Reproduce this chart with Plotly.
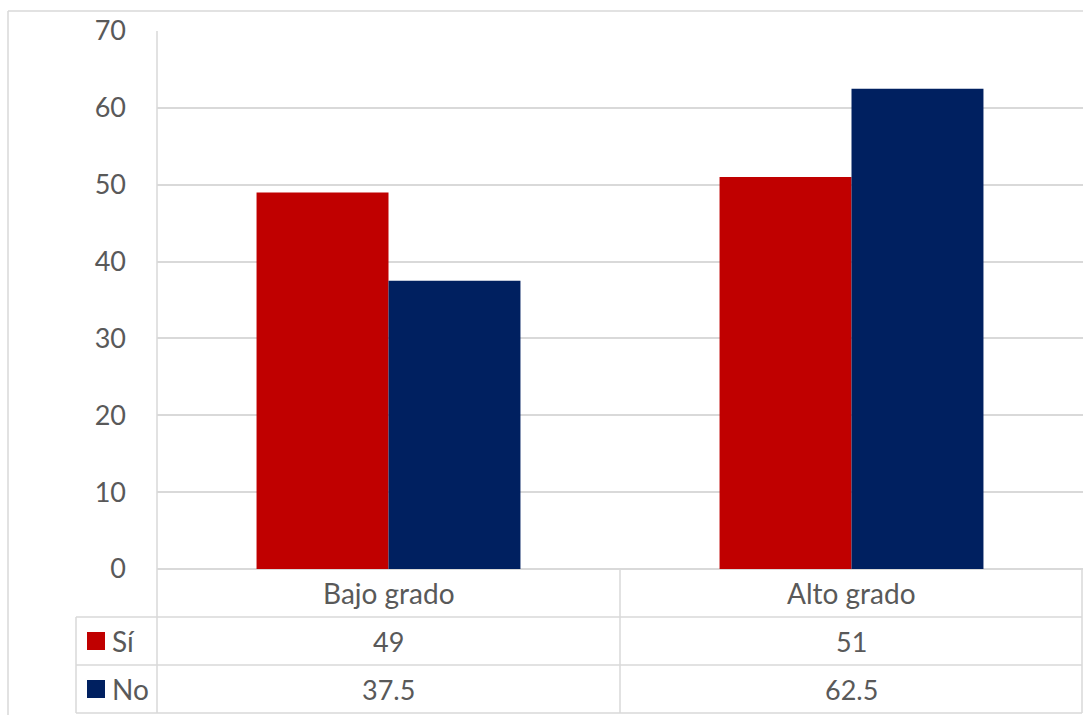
import plotly.graph_objects as go

categories = ["Bajo grado", "Alto grado"]
series_names = ["Sí", "No"]
si_values = [49, 51]
no_values = [37.5, 62.5]
value_labels = {"Sí": ["49", "51"], "No": ["37.5", "62.5"]}
colors = {"Sí": "#C00000", "No": "#002060"}
y_ticks = [0, 10, 20, 30, 40, 50, 60, 70]

W, H = 1083, 715
L, R, T, B = 157, 0, 31, 146
PW, PH = W - L - R, H - T - B
GRID = "#D9D9D9"
TXT = "#595959"
FONT = "Lato"
TEXT_SIZE = 28
NUM_SIZE = 27


def px(x):
    return (x - L) / PW


def py(y):
    return (H - B - y) / PH


fig = go.Figure()
for name, vals in zip(series_names, [si_values, no_values]):
    fig.add_trace(go.Bar(
        x=categories, y=vals, name=name,
        marker=dict(color=colors[name], line=dict(width=0)),
        showlegend=False,
    ))

shapes = []


def line(x0, y0, x1, y1):
    shapes.append(dict(type="line", xref="paper", yref="paper",
                       x0=px(x0), y0=py(y0), x1=px(x1), y1=py(y1),
                       line=dict(color=GRID, width=1.5), layer="above"))


# outer chart frame
line(8, 11, 1083, 11)
line(8, 11, 8, 715)
# plot area left edge extended through the category row
line(157, 31, 157, 713)
# data table grid
line(76, 617, 1082, 617)
line(76, 665, 1082, 665)
line(76, 713, 1082, 713)
line(76, 617, 76, 713)
line(620, 569, 620, 713)
line(1082, 569, 1082, 713)

annotations = []
row_y = {"cat": 593, "Sí": 641, "No": 689}
for i, cat in enumerate(categories):
    annotations.append(dict(x=cat, xref="x", y=py(row_y["cat"]), yref="paper",
                            text=cat, showarrow=False, yanchor="middle",
                            font=dict(family=FONT, size=TEXT_SIZE, color=TXT)))
    for name in series_names:
        annotations.append(dict(x=cat, xref="x", y=py(row_y[name]), yref="paper",
                                text=value_labels[name][i], showarrow=False,
                                yanchor="middle",
                                font=dict(family=FONT, size=NUM_SIZE, color=TXT)))

for name in series_names:
    shapes.append(dict(type="rect", xref="paper", yref="paper",
                       x0=px(87), x1=px(105), y0=py(row_y[name] - 9), y1=py(row_y[name] + 9),
                       fillcolor=colors[name], line=dict(width=0), layer="above"))
    annotations.append(dict(x=px(110), xref="paper", y=py(row_y[name]), yref="paper",
                            text=name, showarrow=False, xanchor="left", yanchor="middle",
                            font=dict(family=FONT, size=TEXT_SIZE, color=TXT)))

fig.update_layout(
    width=W, height=H,
    margin=dict(l=L, r=R, t=T, b=B),
    paper_bgcolor="white", plot_bgcolor="white",
    barmode="group", bargap=0.43, bargroupgap=0,
    shapes=shapes, annotations=annotations,
    xaxis=dict(showticklabels=False, showgrid=False, zeroline=False,
               range=[-0.5, 1.5], fixedrange=True),
    yaxis=dict(range=[0, 70], tickvals=y_ticks, showgrid=True, gridcolor=GRID,
               gridwidth=1.5, zeroline=True, zerolinecolor=GRID, zerolinewidth=1.5,
               ticklabelstandoff=30,
               tickfont=dict(family=FONT, size=NUM_SIZE, color=TXT), fixedrange=True),
)

fig.write_html("out.html")
